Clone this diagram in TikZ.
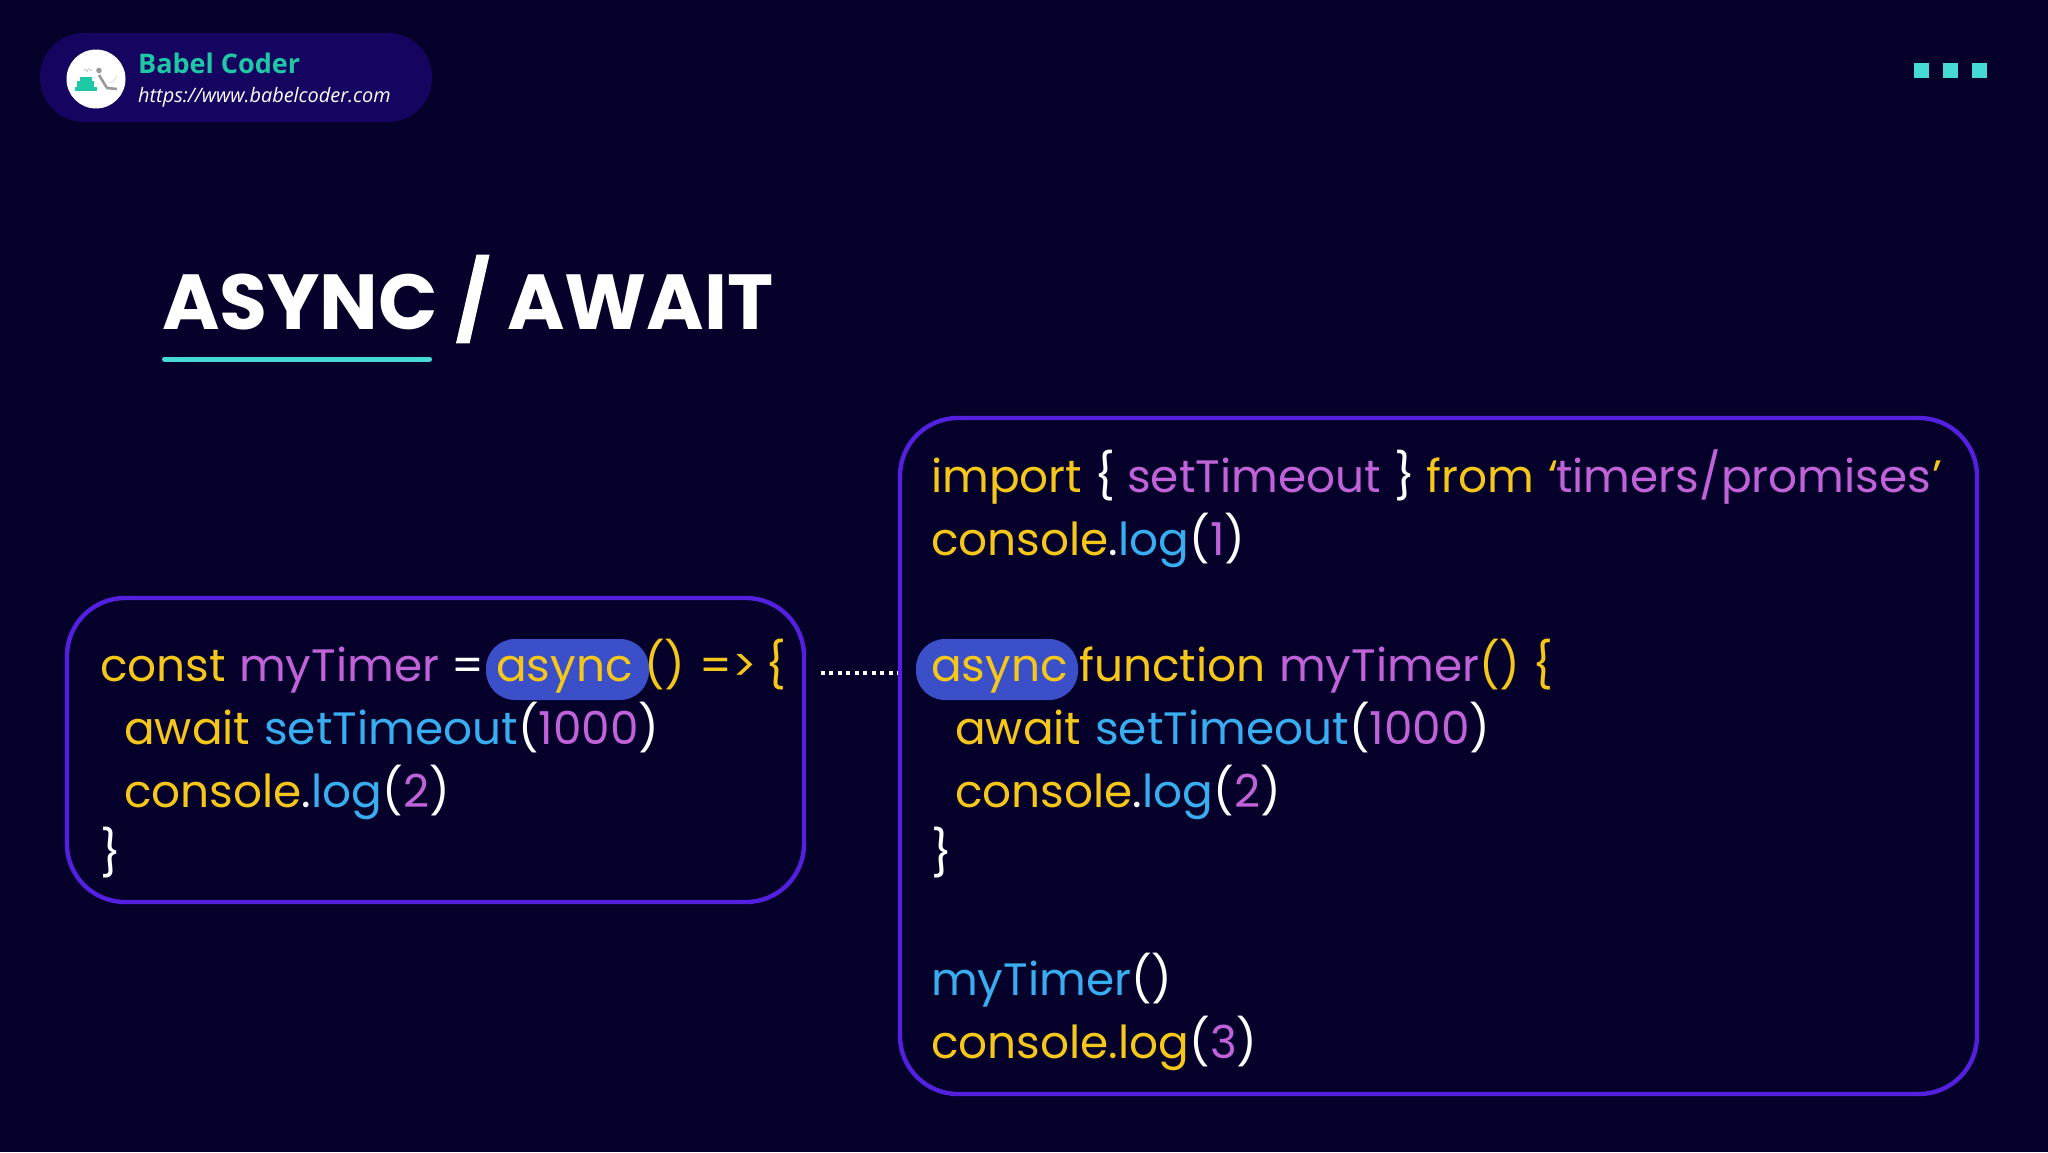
\documentclass[tikz,border=0pt]{standalone}
\usepackage{fontspec}
\setmainfont{Poppins}
\newfontfamily\logofont{Open Sans}
\definecolor{bg}{HTML}{05012A}
\definecolor{pill}{HTML}{150460}
\definecolor{teal}{HTML}{1FC8A5}
\definecolor{aqua}{HTML}{45DAD6}
\definecolor{frame}{HTML}{5220DE}
\definecolor{hl}{HTML}{3A4FC8}
\definecolor{kw}{HTML}{F5C71A}
\definecolor{nm}{HTML}{C062D8}
\definecolor{fn}{HTML}{38AEF0}
\tikzset{
 x=1pt,y=-1pt,
 code/.style={anchor=base west,inner sep=0pt,font=\fontsize{45.4}{45.4}\selectfont},
 y1/.style={code,text=kw}, p1/.style={code,text=nm}, b1/.style={code,text=fn}, w1/.style={code,text=white},
 codebox/.style={draw=frame,line width=4.4pt,rounded corners=58pt},
 hlbox/.style={fill=hl,rounded corners=29pt},
 sq/.style={fill=aqua},
 ttl/.style={anchor=base west,inner sep=0pt,text=white,font=\bfseries\fontsize{78}{78}\selectfont}
}
\begin{document}
\begin{tikzpicture}
\useasboundingbox (0,0) rectangle (2048,1152);
\fill[bg] (0,0) rectangle (2048,1152);
% header
\fill[pill,rounded corners=44pt] (40,33) rectangle (432,122);
\fill[white] (96,79) circle (29.5);
\fill[teal] (75,86.5) rectangle (97,90.5);
\fill[teal] (77,81) rectangle (94,87);
\fill[teal] (80,76.5) rectangle (92,81.5);
\fill[gray!80] (99,70.5) circle (2.8);
\draw[gray!80,line width=2.6pt] (99,75) -- (107,88) -- (117,89);
\draw[gray!35,line width=.6pt] (108,82) -- (113,82) -- (117,76);
\node[anchor=base,inner sep=0pt,text=gray,font=\logofont\fontsize{5.5}{5.5}\selectfont] (tag) at (88,72) {</>};
\node[anchor=base west,inner sep=0pt,text=teal,font=\logofont\bfseries\fontsize{27}{27}\selectfont] (brand) at (138,73) {Babel Coder};
\node[anchor=base west,inner sep=0pt,text=white,font=\logofont\itshape\fontsize{19.9}{19.9}\selectfont] (url) at (138,102) {https://www.babelcoder.com};
\fill[sq] (1914,62.5) rectangle (1929,78);
\fill[sq] (1943,62.5) rectangle (1958,78);
\fill[sq] (1972,62.5) rectangle (1987,78);
% title
\node[ttl] (t1) at (162,329) {ASYNC};
\node[ttl] (t2) at (507,329) {AWAIT};
\fill[white] (476.5,254.5) -- (489.6,254.5) -- (469.6,343.3) -- (456,343.3) -- cycle;
\draw[aqua,line width=5pt,line cap=round] (164.5,359) -- (429.5,359);
% boxes
\draw[codebox] (67,598) rectangle (804,902);
\draw[codebox] (900,418) rectangle (1977,1094);
\fill[hlbox] (486,639) rectangle (649,700);
\fill[hlbox] (916,639) rectangle (1078,700);
\draw[white,line width=4pt,dash pattern=on 4pt off 4.5pt] (820.5,673) -- (898,673);
% left code
\node[y1] (a1) at (100,681.5) {const};
\node[p1] (a2) at (239,681.5) {myTimer};
\node[w1] (a3) at (451,681.5) {=};
\node[y1] (a4) at (496,681.5) {async};
\node[y1] (a5) at (644,681.5) {()\hspace{.31em}=>\hspace{.2em}\{};
\node[y1] (a6) at (124,744.5) {await};
\node[b1] (a7) at (264,744.5) {setTimeout};
\node[w1] (a8) at (518,744.5) {(\textcolor{nm}{1000})};
\node[y1] (a9) at (124,807.5) {console\textcolor{white}{.}\textcolor{fn}{log}\textcolor{white}{(}\textcolor{nm}{2}\textcolor{white}{)}};
\node[w1] (a10) at (100,869.5) {\}};
% right code
\node[y1] (b1) at (931,492) {import};
\node[w1] (b2) at (1094.5,492) {\{};
\node[p1] (b3) at (1127,492) {setTimeout};
\node[w1] (b4) at (1394,492) {\}};
\node[y1] (b5) at (1426,492) {from};
\node[y1] (b6) at (1548,492) {`};
\node[p1] (b7) at (1556,492) {timers/promises};
\node[y1] (b8) at (1932,492) {'};
\node[y1] (b9) at (931,555) {console\textcolor{white}{.}\textcolor{fn}{log}\textcolor{white}{(}\textcolor{nm}{1}\textcolor{white}{)}};
\node[y1] (b10) at (931,681.5) {async};
\node[y1] (b11) at (1079,681.5) {function};
\node[p1] (b12) at (1279,681.5) {myTimer};
\node[y1] (b13) at (1479,681.5) {()\hspace{.27em}\{};
\node[y1] (b14) at (955,744.5) {await};
\node[b1] (b15) at (1095,744.5) {setTimeout};
\node[w1] (b16) at (1349,744.5) {(\textcolor{nm}{1000})};
\node[y1] (b17) at (955,807.5) {console\textcolor{white}{.}\textcolor{fn}{log}\textcolor{white}{(}\textcolor{nm}{2}\textcolor{white}{)}};
\node[w1] (b18) at (931,869.5) {\}};
\node[b1] (b19) at (931,995) {myTimer\textcolor{white}{()}};
\node[y1] (b20) at (931,1058) {console.log\textcolor{white}{(}\textcolor{nm}{3}\textcolor{white}{)}};
\end{tikzpicture}
\end{document}
